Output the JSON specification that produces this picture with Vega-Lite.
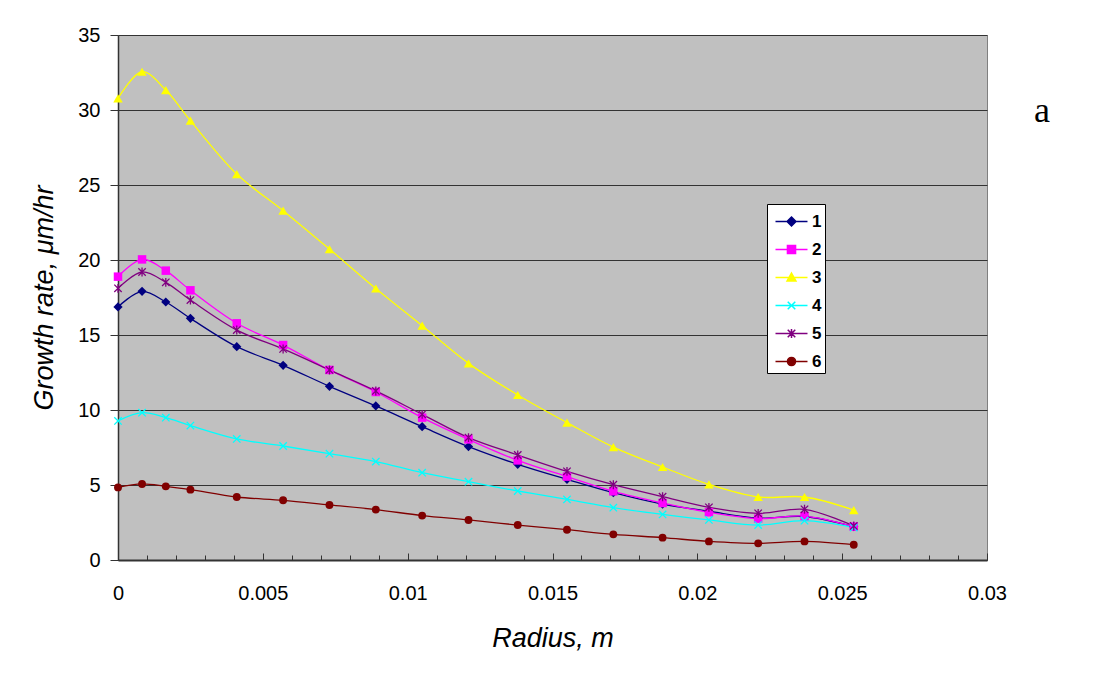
{
  "$schema": "https://vega.github.io/schema/vega-lite/v6.json",
  "width": 869,
  "height": 525,
  "autosize": {"type": "none"},
  "padding": {"left": 118, "top": 35, "right": 108, "bottom": 140},
  "background": "white",
  "title": {"text": "a", "orient": "top", "anchor": "end", "frame": "group", "align": "left", "baseline": "alphabetic", "offset": 0, "dx": 47, "dy": 133, "font": "Liberation Serif", "fontSize": 36, "fontWeight": "normal", "color": "black"},
  "config": {
    "view": {"fill": "#C0C0C0", "stroke": "#808080", "strokeWidth": 1},
    "font": "Liberation Sans"
  },
  "data": {"values": [
    {"r": 0, "g": 16.87, "s": "1"}, {"r": 0.00083, "g": 17.91, "s": "1"}, {"r": 0.00165, "g": 17.2, "s": "1"}, {"r": 0.0025, "g": 16.11, "s": "1"}, {"r": 0.0041, "g": 14.22, "s": "1"}, {"r": 0.0057, "g": 12.98, "s": "1"}, {"r": 0.0073, "g": 11.58, "s": "1"}, {"r": 0.0089, "g": 10.27, "s": "1"}, {"r": 0.0105, "g": 8.89, "s": "1"}, {"r": 0.0121, "g": 7.56, "s": "1"}, {"r": 0.0138, "g": 6.38, "s": "1"}, {"r": 0.0155, "g": 5.38, "s": "1"}, {"r": 0.0171, "g": 4.49, "s": "1"}, {"r": 0.0188, "g": 3.73, "s": "1"}, {"r": 0.0204, "g": 3.25, "s": "1"}, {"r": 0.0221, "g": 2.8, "s": "1"}, {"r": 0.0237, "g": 2.9, "s": "1"}, {"r": 0.0254, "g": 2.22, "s": "1"},
    {"r": 0, "g": 18.89, "s": "2"}, {"r": 0.00083, "g": 20.04, "s": "2"}, {"r": 0.00165, "g": 19.29, "s": "2"}, {"r": 0.0025, "g": 17.98, "s": "2"}, {"r": 0.0041, "g": 15.78, "s": "2"}, {"r": 0.0057, "g": 14.33, "s": "2"}, {"r": 0.0073, "g": 12.67, "s": "2"}, {"r": 0.0089, "g": 11.2, "s": "2"}, {"r": 0.0105, "g": 9.49, "s": "2"}, {"r": 0.0121, "g": 8.04, "s": "2"}, {"r": 0.0138, "g": 6.64, "s": "2"}, {"r": 0.0155, "g": 5.56, "s": "2"}, {"r": 0.0171, "g": 4.58, "s": "2"}, {"r": 0.0188, "g": 3.8, "s": "2"}, {"r": 0.0204, "g": 3.18, "s": "2"}, {"r": 0.0221, "g": 2.76, "s": "2"}, {"r": 0.0237, "g": 2.93, "s": "2"}, {"r": 0.0254, "g": 2.22, "s": "2"},
    {"r": 0, "g": 30.78, "s": "3"}, {"r": 0.00083, "g": 32.55, "s": "3"}, {"r": 0.00165, "g": 31.33, "s": "3"}, {"r": 0.0025, "g": 29.29, "s": "3"}, {"r": 0.0041, "g": 25.73, "s": "3"}, {"r": 0.0057, "g": 23.29, "s": "3"}, {"r": 0.0073, "g": 20.73, "s": "3"}, {"r": 0.0089, "g": 18.1, "s": "3"}, {"r": 0.0105, "g": 15.62, "s": "3"}, {"r": 0.0121, "g": 13.11, "s": "3"}, {"r": 0.0138, "g": 11.0, "s": "3"}, {"r": 0.0155, "g": 9.16, "s": "3"}, {"r": 0.0171, "g": 7.53, "s": "3"}, {"r": 0.0188, "g": 6.2, "s": "3"}, {"r": 0.0204, "g": 5.04, "s": "3"}, {"r": 0.0221, "g": 4.2, "s": "3"}, {"r": 0.0237, "g": 4.2, "s": "3"}, {"r": 0.0254, "g": 3.33, "s": "3"},
    {"r": 0, "g": 9.27, "s": "4"}, {"r": 0.00083, "g": 9.82, "s": "4"}, {"r": 0.00165, "g": 9.49, "s": "4"}, {"r": 0.0025, "g": 8.96, "s": "4"}, {"r": 0.0041, "g": 8.07, "s": "4"}, {"r": 0.0057, "g": 7.6, "s": "4"}, {"r": 0.0073, "g": 7.09, "s": "4"}, {"r": 0.0089, "g": 6.56, "s": "4"}, {"r": 0.0105, "g": 5.82, "s": "4"}, {"r": 0.0121, "g": 5.22, "s": "4"}, {"r": 0.0138, "g": 4.6, "s": "4"}, {"r": 0.0155, "g": 4.04, "s": "4"}, {"r": 0.0171, "g": 3.49, "s": "4"}, {"r": 0.0188, "g": 3.04, "s": "4"}, {"r": 0.0204, "g": 2.67, "s": "4"}, {"r": 0.0221, "g": 2.33, "s": "4"}, {"r": 0.0237, "g": 2.62, "s": "4"}, {"r": 0.0254, "g": 2.16, "s": "4"},
    {"r": 0, "g": 18.11, "s": "5"}, {"r": 0.00083, "g": 19.2, "s": "5"}, {"r": 0.00165, "g": 18.51, "s": "5"}, {"r": 0.0025, "g": 17.33, "s": "5"}, {"r": 0.0041, "g": 15.33, "s": "5"}, {"r": 0.0057, "g": 14.07, "s": "5"}, {"r": 0.0073, "g": 12.67, "s": "5"}, {"r": 0.0089, "g": 11.27, "s": "5"}, {"r": 0.0105, "g": 9.71, "s": "5"}, {"r": 0.0121, "g": 8.16, "s": "5"}, {"r": 0.0138, "g": 7.0, "s": "5"}, {"r": 0.0155, "g": 5.91, "s": "5"}, {"r": 0.0171, "g": 5.02, "s": "5"}, {"r": 0.0188, "g": 4.22, "s": "5"}, {"r": 0.0204, "g": 3.51, "s": "5"}, {"r": 0.0221, "g": 3.11, "s": "5"}, {"r": 0.0237, "g": 3.38, "s": "5"}, {"r": 0.0254, "g": 2.27, "s": "5"},
    {"r": 0, "g": 4.84, "s": "6"}, {"r": 0.00083, "g": 5.07, "s": "6"}, {"r": 0.00165, "g": 4.91, "s": "6"}, {"r": 0.0025, "g": 4.69, "s": "6"}, {"r": 0.0041, "g": 4.2, "s": "6"}, {"r": 0.0057, "g": 3.98, "s": "6"}, {"r": 0.0073, "g": 3.67, "s": "6"}, {"r": 0.0089, "g": 3.36, "s": "6"}, {"r": 0.0105, "g": 2.96, "s": "6"}, {"r": 0.0121, "g": 2.67, "s": "6"}, {"r": 0.0138, "g": 2.33, "s": "6"}, {"r": 0.0155, "g": 2.02, "s": "6"}, {"r": 0.0171, "g": 1.71, "s": "6"}, {"r": 0.0188, "g": 1.49, "s": "6"}, {"r": 0.0204, "g": 1.24, "s": "6"}, {"r": 0.0221, "g": 1.11, "s": "6"}, {"r": 0.0237, "g": 1.24, "s": "6"}, {"r": 0.0254, "g": 1.02, "s": "6"}
  ]},
  "encoding": {
    "x": {"field": "r", "type": "quantitative", "scale": {"domain": [0, 0.03], "nice": false, "zero": false},
      "axis": {"title": "Radius, m", "titleFont": "Liberation Sans", "titleFontSize": 27, "titleFontStyle": "italic", "titleFontWeight": "normal", "titleColor": "black", "titlePadding": 20,
        "values": [0, 0.001, 0.002, 0.003, 0.004, 0.005, 0.006, 0.007, 0.008, 0.009, 0.01, 0.011, 0.012, 0.013, 0.014, 0.015, 0.016, 0.017, 0.018, 0.019, 0.02, 0.021, 0.022, 0.023, 0.024, 0.025, 0.026, 0.027, 0.028, 0.029, 0.03],
        "format": "~g", "labelExpr": "round(datum.value*1000) % 5 === 0 ? datum.label : ''",
        "labelOverlap": false, "labelFlush": false, "labelBound": false,
        "labelFont": "Liberation Sans", "labelFontSize": 20, "labelColor": "black", "labelPadding": 30,
        "tickSize": {"condition": {"test": "round(datum.value*1000) % 5 === 0", "value": -7}, "value": -5},
        "tickColor": "#333", "tickWidth": 1, "domainColor": "#333", "domainWidth": 2, "grid": false}},
    "y": {"field": "g", "type": "quantitative", "scale": {"domain": [0, 35], "nice": false},
      "axis": {"title": "Growth rate, μm/hr", "titleFont": "Liberation Sans", "titleFontSize": 27, "titleFontStyle": "italic", "titleFontWeight": "normal", "titleColor": "black", "titlePadding": 19,
        "values": [0, 5, 10, 15, 20, 25, 30, 35], "labelFont": "Liberation Sans", "labelFontSize": 20, "labelColor": "black", "labelPadding": 10,
        "tickSize": 8, "tickColor": "#333", "domainColor": "#333", "domainWidth": 1.5,
        "grid": true, "gridColor": "#333", "gridWidth": 1, "gridOpacity": 1}}
  },
  "layer": [
    {"mark": {"type": "line", "interpolate": "catmull-rom", "strokeWidth": 1.3},
     "encoding": {"color": {"field": "s", "type": "nominal", "legend": null,
        "scale": {"domain": ["6", "5", "4", "3", "2", "1"], "range": ["#800000", "#800080", "#00FFFF", "#FFFF00", "#FF00FF", "#000080"]}}}},
    {"transform": [{"filter": "datum.s === '1'"}], "mark": {"type": "point", "shape": "diamond", "filled": true, "size": 85, "color": "#000080", "opacity": 1}},
    {"transform": [{"filter": "datum.s === '2'"}], "mark": {"type": "point", "shape": "square", "filled": true, "size": 72, "color": "#FF00FF", "opacity": 1}},
    {"transform": [{"filter": "datum.s === '3'"}], "mark": {"type": "point", "shape": "triangle-up", "filled": true, "size": 90, "color": "#FFFF00", "opacity": 1}},
    {"transform": [{"filter": "datum.s === '4'"}], "mark": {"type": "point", "shape": "M-1,-1L1,1M-1,1L1,-1", "filled": false, "size": 55, "strokeWidth": 1.3, "color": "#00FFFF", "opacity": 1}},
    {"transform": [{"filter": "datum.s === '5'"}], "mark": {"type": "point", "shape": "M-1,-1L1,1M-1,1L1,-1M0,-1.2V1.2", "filled": false, "size": 55, "strokeWidth": 1.3, "color": "#800080", "opacity": 1}},
    {"transform": [{"filter": "datum.s === '6'"}], "mark": {"type": "point", "shape": "circle", "filled": true, "size": 62, "color": "#800000", "opacity": 1}},
    {"transform": [{"filter": "datum.g < -100"}],
     "mark": {"type": "point", "filled": true, "opacity": 1, "strokeWidth": 1.5},
     "encoding": {
       "fill": {"field": "s", "type": "nominal", "scale": {"domain": ["1", "2", "3", "4", "5", "6"], "range": ["#000080", "#FF00FF", "#FFFF00", "#00FFFF", "#800080", "#800000"]},
         "legend": {"title": null, "orient": "none", "legendX": 649, "legendY": 169, "padding": 3, "fillColor": "white", "strokeColor": "black", "symbolSize": 729, "symbolOffset": 7, "symbolStrokeWidth": 1.5, "rowPadding": 5, "labelOffset": 6, "labelFont": "Liberation Sans", "labelFontSize": 17, "labelFontWeight": "bold", "labelColor": "black"}},
       "stroke": {"field": "s", "type": "nominal", "scale": {"domain": ["1", "2", "3", "4", "5", "6"], "range": ["#000080", "#FF00FF", "#FFFF00", "#00FFFF", "#800080", "#800000"]},
         "legend": {"title": null, "orient": "none", "legendX": 649, "legendY": 169, "padding": 3, "fillColor": "white", "strokeColor": "black", "symbolSize": 729, "symbolOffset": 7, "symbolStrokeWidth": 1.5, "rowPadding": 5, "labelOffset": 6, "labelFont": "Liberation Sans", "labelFontSize": 17, "labelFontWeight": "bold", "labelColor": "black"}},
       "shape": {"field": "s", "type": "nominal", "scale": {"domain": ["1", "2", "3", "4", "5", "6"], "range": [
           "M-1.185,0H1.185M0,-0.33L0.33,0L0,0.33L-0.33,0Z",
           "M-1.185,0H1.185M-0.3,-0.3H0.3V0.3H-0.3Z",
           "M-1.185,0H1.185M0,-0.33L0.33,0.26H-0.33Z",
           "M-1.185,0H1.185M-0.28,-0.28L0.28,0.28M-0.28,0.28L0.28,-0.28",
           "M-1.185,0H1.185M-0.28,-0.28L0.28,0.28M-0.28,0.28L0.28,-0.28M0,-0.33V0.33",
           "M-1.185,0H1.185M-0.3,0A0.3,0.3,0,1,0,0.3,0A0.3,0.3,0,1,0,-0.3,0Z"]},
         "legend": {"title": null, "orient": "none", "legendX": 649, "legendY": 169, "padding": 3, "fillColor": "white", "strokeColor": "black", "symbolSize": 729, "symbolOffset": 7, "symbolStrokeWidth": 1.5, "rowPadding": 5, "labelOffset": 6, "labelFont": "Liberation Sans", "labelFontSize": 17, "labelFontWeight": "bold", "labelColor": "black"}}
     }}
  ]
}
